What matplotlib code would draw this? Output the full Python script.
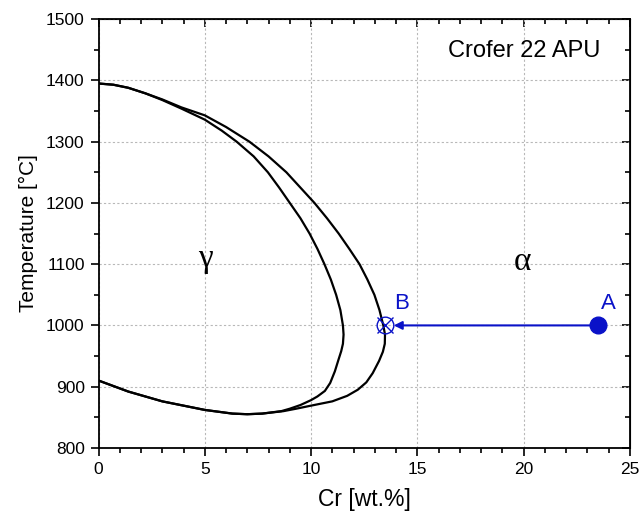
import matplotlib.pyplot as plt
from matplotlib.ticker import MultipleLocator

# gamma loop boundaries of the Fe-Cr system (Cr in wt.%, T in degC)
outer_cr = [0.0, 0.7, 1.4, 2.2, 3.0, 3.9, 5.0, 6.0, 7.1, 8.0, 8.84, 9.5,
            10.16, 10.75, 11.3, 11.8, 12.28, 12.65, 12.98, 13.22, 13.4,
            13.48, 13.47, 13.38, 13.2, 12.9, 12.6, 12.2, 11.7, 11.0, 10.0,
            9.3, 8.7, 7.7, 7.0, 6.3, 5.0, 3.0, 1.4, 0.0]
outer_t = [1395, 1393, 1388, 1379, 1369, 1356, 1343, 1324, 1300, 1276, 1250, 1225,
           1200, 1175, 1150, 1125, 1100, 1075, 1050, 1025, 1000,
           985, 970, 957, 942, 922, 907, 895, 885, 876, 869,
           864, 860, 856, 855, 856, 862, 876, 892, 910]

inner_cr = [0.0, 0.7, 1.4, 2.2, 3.0, 3.9, 5.0, 5.8, 6.5, 7.3, 7.97, 8.5,
            9.0, 9.5, 9.93, 10.3, 10.63, 10.93, 11.18, 11.38, 11.5,
            11.53, 11.5, 11.42, 11.3, 11.12, 10.9, 10.65, 10.3, 10.0, 9.5,
            9.0, 8.6, 7.7, 7.0, 6.3, 5.0, 3.0, 1.4, 0.0]
inner_t = [1395, 1393, 1388, 1379, 1368, 1354, 1336, 1318, 1300, 1276, 1250, 1225,
           1200, 1175, 1150, 1125, 1100, 1075, 1050, 1025, 1000,
           985, 970, 958, 945, 925, 906, 893, 884, 878, 870,
           864, 860, 856, 855, 856, 862, 876, 892, 910]

point_a = (23.5, 1000)
point_b = (13.5, 1000)

blue = '#0a12c8'

plt.rcParams['font.family'] = ['Liberation Sans', 'DejaVu Sans']

fig = plt.figure(figsize=(6.44, 5.19), dpi=100)
ax = fig.add_axes([0.153, 0.137, 0.825, 0.826])

ax.plot(outer_cr, outer_t, color='black', lw=1.6, solid_joinstyle='round', zorder=3)
ax.plot(inner_cr, inner_t, color='black', lw=1.6, solid_joinstyle='round', zorder=3)

# cooling path A -> B
ax.annotate('', xy=point_b, xytext=point_a,
            arrowprops=dict(arrowstyle='-|>', color=blue, lw=1.5,
                            mutation_scale=12, shrinkA=0, shrinkB=6),
            zorder=4)
ax.plot(*point_a, 'o', color=blue, ms=12, zorder=5)
ax.plot(*point_b, 'o', mfc='none', mec=blue, mew=1.0, ms=12, zorder=5)
ax.plot(*point_b, 'x', color=blue, mew=1.0, ms=11, zorder=5)

ax.text(24.0, 1027, 'A', color=blue, fontsize=16, ha='center', va='baseline')
ax.text(14.25, 1027, 'B', color=blue, fontsize=16, ha='center', va='baseline')

greek = ['Liberation Serif', 'DejaVu Serif']
ax.text(5.05, 1095, 'γ', fontsize=24, family=greek, ha='center', va='baseline')
ax.text(19.93, 1090, 'α', fontsize=24, family=greek, ha='center', va='baseline')
ax.text(20.02, 1438, 'Crofer 22 APU', fontsize=17, ha='center', va='baseline')

ax.set_xlim(0, 25)
ax.set_ylim(800, 1500)
ax.xaxis.set_major_locator(MultipleLocator(5))
ax.xaxis.set_minor_locator(MultipleLocator(1))
ax.yaxis.set_major_locator(MultipleLocator(100))
ax.yaxis.set_minor_locator(MultipleLocator(50))

ax.grid(True, which='major', color='#b8b8b8', lw=0.8, ls=(0, (2, 2)))
for s in ax.spines.values():
    s.set_linewidth(1.3)

ax.tick_params(which='both', direction='out', width=1.2, labelsize=12.5)
ax.tick_params(which='major', length=6, pad=4)
ax.tick_params(which='minor', length=3.5)

# inward ticks on the opposite sides
top = ax.secondary_xaxis('top')
top.xaxis.set_major_locator(MultipleLocator(5))
top.xaxis.set_minor_locator(MultipleLocator(1))
top.tick_params(which='both', direction='in', width=1.2, labeltop=False)
top.tick_params(which='major', length=6)
top.tick_params(which='minor', length=3.5)
right = ax.secondary_yaxis('right')
right.yaxis.set_major_locator(MultipleLocator(100))
right.yaxis.set_minor_locator(MultipleLocator(50))
right.tick_params(which='both', direction='in', width=1.2, labelright=False)
right.tick_params(which='major', length=6)
right.tick_params(which='minor', length=3.5)

ax.set_xlabel('Cr [wt.%]', fontsize=16.5, labelpad=8)
ax.set_ylabel('Temperature [°C]', fontsize=15, labelpad=6)

fig.savefig('out.png', dpi=100)
